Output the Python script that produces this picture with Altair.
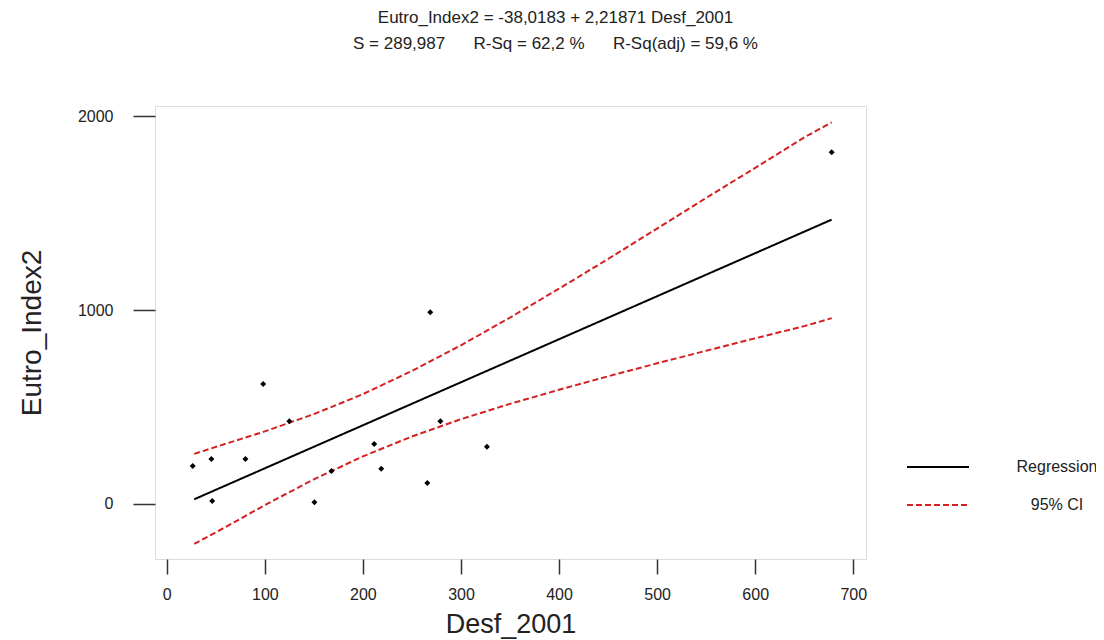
import altair as alt
import pandas as pd

# ---- data ----
desf_2001 = [26.5, 45.5, 46.3, 80.2, 98.3, 125, 150.6, 168, 211.5, 218.7,
             265.7, 268.7, 279, 326.5, 678]
eutro_index2 = [196, 232, 15, 232, 619, 426, 9, 170, 309, 182,
                108, 988, 426, 295, 1813]

fit_x = [28, 678]
fit_y = [24, 1466]

ci_x = [28, 60, 100, 150, 200, 250, 300, 350, 400, 450, 500, 550, 600, 650, 678]
ci_upper = [258, 310, 374, 463, 566, 686, 818, 961, 1110, 1263, 1420, 1578, 1733, 1890, 1968]
ci_lower = [-206, -119, -6, 127, 245, 348, 437, 516, 589, 658, 725, 790, 854, 917, 958]

series_names = ["Regression", "95% CI"]
title_line1 = "Eutro_Index2 = -38,0183 + 2,21871 Desf_2001"
title_line2 = "S = 289,987\u00a0\u00a0\u00a0\u00a0\u00a0\u00a0R-Sq = 62,2 %\u00a0\u00a0\u00a0\u00a0\u00a0\u00a0R-Sq(adj) = 59,6 %"

x_ticks = [0, 100, 200, 300, 400, 500, 600, 700]
y_ticks = [0, 1000, 2000]

# ---- tables ----
pts = pd.DataFrame({"Desf_2001": desf_2001, "Eutro_Index2": eutro_index2})
rows = []
for xv, yv in zip(fit_x, fit_y):
    rows.append({"x": xv, "y": yv, "series": "Regression", "part": "fit"})
for xv, yv in zip(ci_x, ci_upper):
    rows.append({"x": xv, "y": yv, "series": "95% CI", "part": "upper"})
for xv, yv in zip(ci_x, ci_lower):
    rows.append({"x": xv, "y": yv, "series": "95% CI", "part": "lower"})
lines_df = pd.DataFrame(rows)

FONT = "Liberation Sans"
INK = "#222222"
FRAME = "#333333"
xscale = alt.Scale(domain=[-12, 713], nice=False, zero=False)
yscale = alt.Scale(domain=[-284, 2052], nice=False, zero=False)

x_axis = alt.Axis(values=x_ticks, format="d", tickSize=15, labelPadding=12, grid=False, domain=False,
                  labelFontSize=16, labelFont=FONT, labelColor=INK,
                  tickColor=FRAME, tickWidth=1.5,
                  title="Desf_2001", titleFont=FONT, titleFontSize=27,
                  titleFontWeight="normal", titleColor=INK, titlePadding=9)
y_axis = alt.Axis(values=y_ticks, format="d", tickSize=22, labelPadding=20, grid=False, domain=False,
                  labelFontSize=16, labelFont=FONT, labelColor=INK,
                  tickColor=FRAME, tickWidth=1.5,
                  title="Eutro_Index2", titleFont=FONT, titleFontSize=28,
                  titleFontWeight="normal", titleColor=INK, titlePadding=31)

legend = alt.Legend(orient="none", legendX=751, legendY=351, title=None,
                    symbolType="stroke", symbolSize=3844, symbolStrokeWidth=2,
                    clipHeight=20, rowPadding=18, padding=0,
                    labelFont=FONT, labelFontSize=16, labelColor=INK,
                    labelAlign="center", labelOffset=87)

lines = alt.Chart(lines_df).mark_line(strokeWidth=2).encode(
    x=alt.X("x:Q", scale=xscale, axis=x_axis),
    y=alt.Y("y:Q", scale=yscale, axis=y_axis),
    color=alt.Color("series:N", scale=alt.Scale(domain=series_names, range=["#000000", "#d42020"]),
                    legend=legend),
    strokeDash=alt.StrokeDash("series:N", scale=alt.Scale(domain=series_names, range=[[1, 0], [6, 3]]),
                              legend=legend),
    detail="part:N",
)

points = alt.Chart(pts).mark_point(shape="diamond", filled=True, size=36, color="black", opacity=1).encode(
    x=alt.X("Desf_2001:Q", scale=xscale, axis=x_axis),
    y=alt.Y("Eutro_Index2:Q", scale=yscale, axis=y_axis),
)

chart = alt.layer(lines, points).properties(
    width=711, height=453,
    autosize=alt.AutoSizeParams(type="none"),
    padding={"left": 147, "top": 98, "right": 230, "bottom": 84},
    title=alt.TitleParams(text=title_line1, subtitle=title_line2, anchor="middle", dx=45,
                          offset=53, font=FONT, fontSize=17, fontWeight="normal", color=INK,
                          subtitleFont=FONT, subtitleFontSize=17, subtitleColor=INK,
                          subtitlePadding=9),
).configure_view(stroke=FRAME, strokeWidth=1.5).configure(background="white")

chart.save("out.html", embed_options={"renderer": "svg", "actions": False})
